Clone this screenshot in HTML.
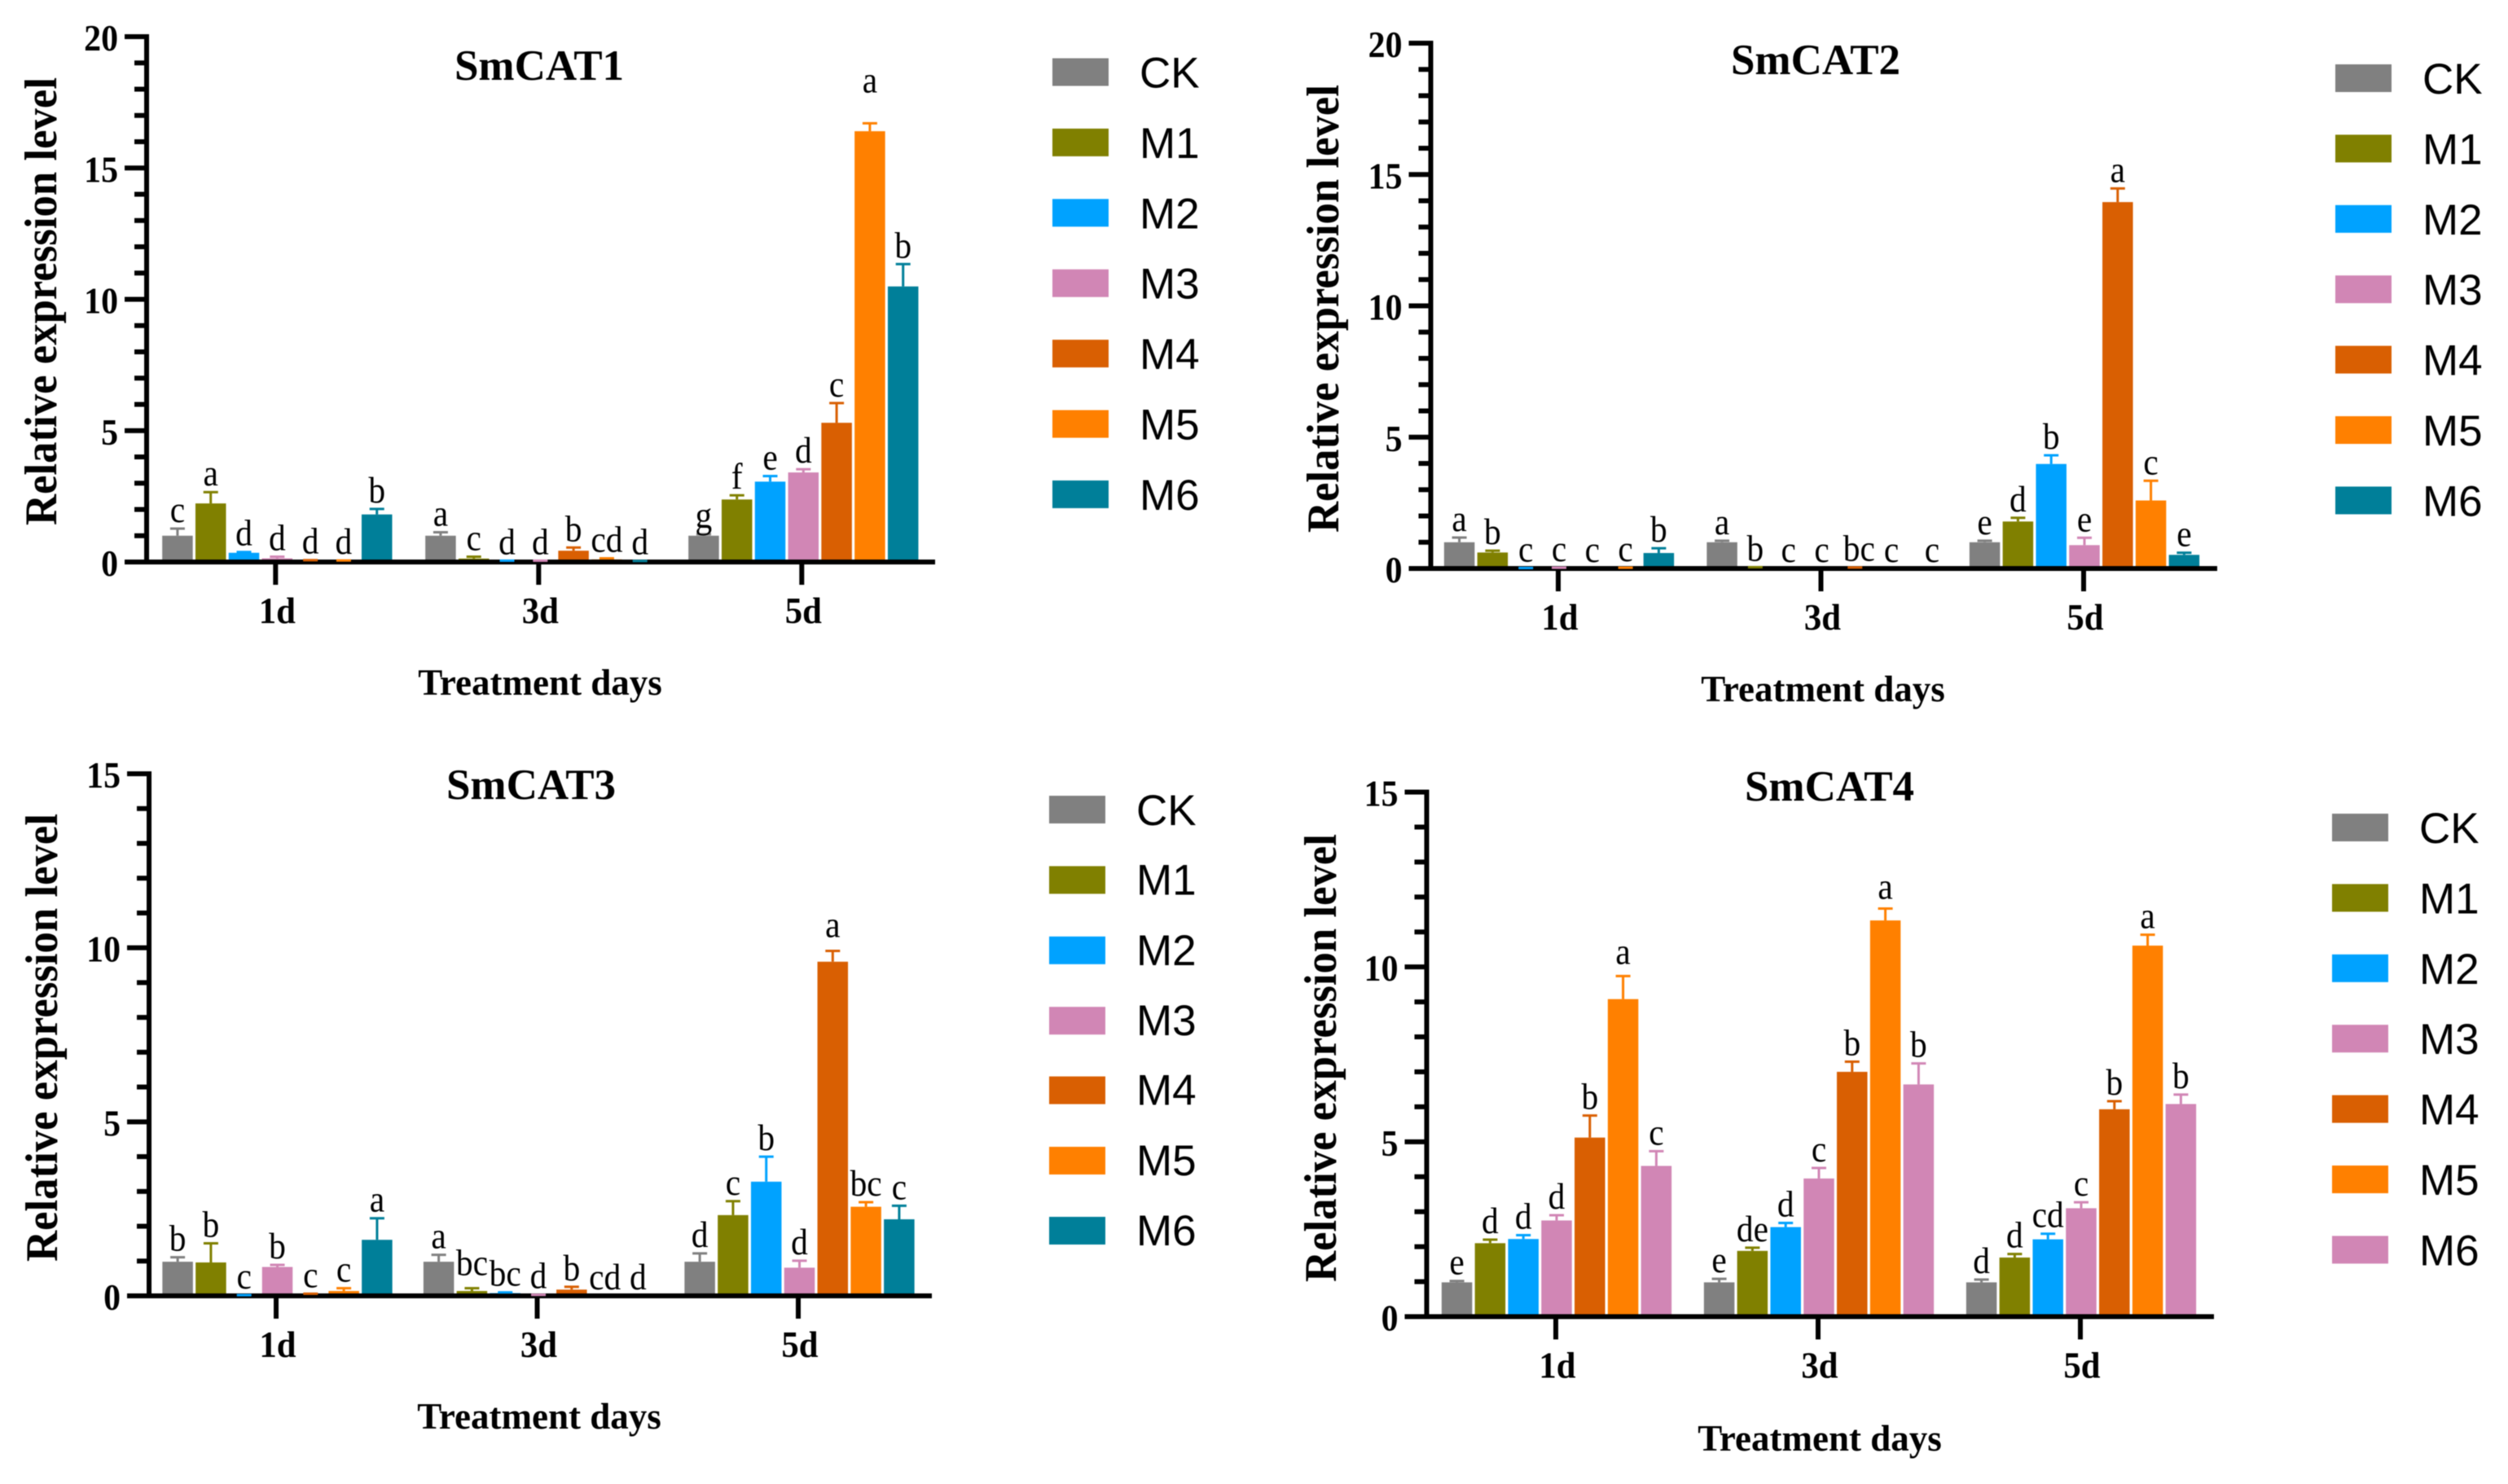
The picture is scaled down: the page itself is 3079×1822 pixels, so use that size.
<!DOCTYPE html>
<html lang="en">
<head>
<meta charset="utf-8">
<title>SmCAT relative expression levels</title>
<style>
html,body{margin:0;padding:0;background:#fff;width:3079px;height:1822px;overflow:hidden}
svg{display:block;filter:blur(0.6px)}
.title{font:bold 53px "Liberation Serif",serif;text-anchor:middle;fill:#000}
.ytitle{font:bold 56px "Liberation Serif",serif;text-anchor:middle;fill:#000}
.xtitle{font:bold 45px "Liberation Serif",serif;text-anchor:middle;fill:#000}
.ticklab{font:bold 45px "Liberation Serif",serif;fill:#000}
.letter{font:46px "Liberation Serif",serif;text-anchor:middle;fill:#000}
.leg{font:53px "Liberation Sans",sans-serif;fill:#000}
</style>
</head>
<body>
<svg id="figure" width="3079" height="1822" viewBox="0 0 3079 1822" xmlns="http://www.w3.org/2000/svg">
<rect width="3079" height="1822" fill="#fff"/>

<g id="panel-0">
<text class="title" x="662" y="98">SmCAT1</text>
<text class="ytitle" transform="translate(69,370) rotate(-90)" textLength="550" lengthAdjust="spacingAndGlyphs">Relative expression level</text>
<text class="xtitle" x="663" y="853">Treatment days</text>
<g transform="translate(1292,88.5)">
<g><rect x="0" y="-17" width="69" height="34" fill="#808080"/><text class="leg" x="107" y="19">CK</text></g>
<g transform="translate(0,86.4)"><rect x="0" y="-17" width="69" height="34" fill="#808000"/><text class="leg" x="107" y="19">M1</text></g>
<g transform="translate(0,172.8)"><rect x="0" y="-17" width="69" height="34" fill="#00A2FF"/><text class="leg" x="107" y="19">M2</text></g>
<g transform="translate(0,259.2)"><rect x="0" y="-17" width="69" height="34" fill="#D186B5"/><text class="leg" x="107" y="19">M3</text></g>
<g transform="translate(0,345.6)"><rect x="0" y="-17" width="69" height="34" fill="#D95F02"/><text class="leg" x="107" y="19">M4</text></g>
<g transform="translate(0,432)"><rect x="0" y="-17" width="69" height="34" fill="#FF8000"/><text class="leg" x="107" y="19">M5</text></g>
<g transform="translate(0,518.4)"><rect x="0" y="-17" width="69" height="34" fill="#007F99"/><text class="leg" x="107" y="19">M6</text></g>
</g>
</g>

<g id="panel-1">
<text class="title" x="2229" y="91">SmCAT2</text>
<text class="ytitle" transform="translate(1643,379) rotate(-90)" textLength="550" lengthAdjust="spacingAndGlyphs">Relative expression level</text>
<text class="xtitle" x="2238" y="861">Treatment days</text>
<g transform="translate(2867,96)">
<g><rect x="0" y="-17" width="69" height="34" fill="#808080"/><text class="leg" x="107" y="19">CK</text></g>
<g transform="translate(0,86.4)"><rect x="0" y="-17" width="69" height="34" fill="#808000"/><text class="leg" x="107" y="19">M1</text></g>
<g transform="translate(0,172.8)"><rect x="0" y="-17" width="69" height="34" fill="#00A2FF"/><text class="leg" x="107" y="19">M2</text></g>
<g transform="translate(0,259.2)"><rect x="0" y="-17" width="69" height="34" fill="#D186B5"/><text class="leg" x="107" y="19">M3</text></g>
<g transform="translate(0,345.6)"><rect x="0" y="-17" width="69" height="34" fill="#D95F02"/><text class="leg" x="107" y="19">M4</text></g>
<g transform="translate(0,432)"><rect x="0" y="-17" width="69" height="34" fill="#FF8000"/><text class="leg" x="107" y="19">M5</text></g>
<g transform="translate(0,518.4)"><rect x="0" y="-17" width="69" height="34" fill="#007F99"/><text class="leg" x="107" y="19">M6</text></g>
</g>
</g>

<g id="panel-2">
<text class="title" x="652" y="981">SmCAT3</text>
<text class="ytitle" transform="translate(70,1274) rotate(-90)" textLength="550" lengthAdjust="spacingAndGlyphs">Relative expression level</text>
<text class="xtitle" x="662" y="1754">Treatment days</text>
<g transform="translate(1288,994)">
<g><rect x="0" y="-17" width="69" height="34" fill="#808080"/><text class="leg" x="107" y="19">CK</text></g>
<g transform="translate(0,86.4)"><rect x="0" y="-17" width="69" height="34" fill="#808000"/><text class="leg" x="107" y="18">M1</text></g>
<g transform="translate(0,172.8)"><rect x="0" y="-17" width="69" height="34" fill="#00A2FF"/><text class="leg" x="107" y="18">M2</text></g>
<g transform="translate(0,259.2)"><rect x="0" y="-17" width="69" height="34" fill="#D186B5"/><text class="leg" x="107" y="18">M3</text></g>
<g transform="translate(0,344.6)"><rect x="0" y="-17" width="69" height="34" fill="#D95F02"/><text class="leg" x="107" y="18">M4</text></g>
<g transform="translate(0,431)"><rect x="0" y="-17" width="69" height="34" fill="#FF8000"/><text class="leg" x="107" y="18">M5</text></g>
<g transform="translate(0,517)"><rect x="0" y="-17" width="69" height="34" fill="#007F99"/><text class="leg" x="107" y="18">M6</text></g>
</g>
</g>

<g id="panel-3">
<text class="title" x="2246" y="983">SmCAT4</text>
<text class="ytitle" transform="translate(1640,1299) rotate(-90)" textLength="550" lengthAdjust="spacingAndGlyphs">Relative expression level</text>
<text class="xtitle" x="2234" y="1781">Treatment days</text>
<g transform="translate(2863,1016)">
<g><rect x="0" y="-17" width="69" height="34" fill="#808080"/><text class="leg" x="107" y="19">CK</text></g>
<g transform="translate(0,86.4)"><rect x="0" y="-17" width="69" height="34" fill="#808000"/><text class="leg" x="107" y="19">M1</text></g>
<g transform="translate(0,172.8)"><rect x="0" y="-17" width="69" height="34" fill="#00A2FF"/><text class="leg" x="107" y="19">M2</text></g>
<g transform="translate(0,259.2)"><rect x="0" y="-17" width="69" height="34" fill="#D186B5"/><text class="leg" x="107" y="19">M3</text></g>
<g transform="translate(0,345.6)"><rect x="0" y="-17" width="69" height="34" fill="#D95F02"/><text class="leg" x="107" y="19">M4</text></g>
<g transform="translate(0,432)"><rect x="0" y="-17" width="69" height="34" fill="#FF8000"/><text class="leg" x="107" y="19">M5</text></g>
<g transform="translate(0,518.4)"><rect x="0" y="-17" width="69" height="34" fill="#D186B5"/><text class="leg" x="107" y="19">M6</text></g>
</g>
</g>
</svg>

<script>
// ---- shared categories and tick labels ----
const categories = ['1d', '3d', '5d'];
const seriesNames = ['CK', 'M1', 'M2', 'M3', 'M4', 'M5', 'M6'];
const ticks20 = [0, 5, 10, 15, 20];
const ticks15 = [0, 5, 10, 15];

// ---- SmCAT1: one row per treatment day, columns CK..M6 ----
const cat1Values = [
  [1.0, 2.23, 0.35, 0.14, 0.06, 0.05, 1.81],
  [1.0, 0.13, 0.04, 0.04, 0.43, 0.10, 0.03],
  [1.0, 2.38, 3.06, 3.41, 5.30, 16.40, 10.49]
];
const cat1Errors = [
  [0.27, 0.43, 0.03, 0.06, 0.01, 0.01, 0.21],
  [0.13, 0.07, 0.01, 0.01, 0.12, 0.04, 0.01],
  [0.06, 0.16, 0.21, 0.12, 0.75, 0.30, 0.85]
];
const cat1Letters = [
  ['c', 'a', 'd', 'd', 'd', 'd', 'b'],
  ['a', 'c', 'd', 'd', 'b', 'cd', 'd'],
  ['g', 'f', 'e', 'd', 'c', 'a', 'b']
];

// ---- SmCAT2 ----
const cat2Values = [
  [1.0, 0.61, 0.02, 0.03, 0, 0.03, 0.59],
  [1.0, 0.05, 0, 0, 0.04, 0, 0],
  [1.0, 1.79, 3.98, 0.89, 13.95, 2.59, 0.52]
];
const cat2Errors = [
  [0.18, 0.07, 0, 0, 0, 0, 0.18],
  [0.06, 0, 0, 0, 0, 0, 0],
  [0.06, 0.14, 0.33, 0.28, 0.52, 0.75, 0.08]
];
const cat2Letters = [
  ['a', 'b', 'c', 'c', 'c', 'c', 'b'],
  ['a', 'b', 'c', 'c', 'bc', 'c', 'c'],
  ['e', 'd', 'b', 'e', 'a', 'c', 'e']
];

// ---- SmCAT3 ----
const cat3Values = [
  [0.98, 0.96, 0.02, 0.83, 0.05, 0.14, 1.61],
  [0.98, 0.14, 0.08, 0.03, 0.18, 0, 0],
  [0.98, 2.32, 3.28, 0.81, 9.60, 2.56, 2.20]
];
const cat3Errors = [
  [0.13, 0.55, 0, 0.06, 0.01, 0.08, 0.62],
  [0.20, 0.08, 0.02, 0, 0.08, 0, 0],
  [0.24, 0.40, 0.72, 0.20, 0.31, 0.13, 0.39]
];
const cat3Letters = [
  ['b', 'b', 'c', 'b', 'c', 'c', 'a'],
  ['a', 'bc', 'bc', 'd', 'b', 'cd', 'd'],
  ['d', 'c', 'b', 'd', 'a', 'bc', 'c']
];

// ---- SmCAT4 ----
const cat4Values = [
  [0.98, 2.10, 2.22, 2.75, 5.12, 9.08, 4.31],
  [0.98, 1.88, 2.56, 3.95, 7.00, 11.33, 6.64],
  [0.98, 1.69, 2.21, 3.10, 5.93, 10.61, 6.08]
];
const cat4Errors = [
  [0.04, 0.10, 0.11, 0.15, 0.63, 0.66, 0.42],
  [0.10, 0.09, 0.12, 0.30, 0.29, 0.34, 0.60],
  [0.08, 0.10, 0.16, 0.17, 0.23, 0.31, 0.27]
];
const cat4Letters = [
  ['e', 'd', 'd', 'd', 'b', 'a', 'c'],
  ['e', 'de', 'd', 'c', 'b', 'a', 'b'],
  ['d', 'd', 'cd', 'c', 'b', 'a', 'b']
];

// ---- presentation (not data) ----
const palette = ['#808080', '#808000', '#00A2FF', '#D186B5', '#D95F02', '#FF8000', '#007F99'];
const paletteCat4 = ['#808080', '#808000', '#00A2FF', '#D186B5', '#D95F02', '#FF8000', '#D186B5'];
const panels = [
  {values: cat1Values, errors: cat1Errors, letters: cat1Letters, ticks: ticks20, colors: palette,
   axisX: 180, y0: 690, yTop: 45, firstTick: 338.3, groupPitch: 323, barOffset: 2, endX: 1148,
   nudges: {'2-5': [0, -30]}},
  {values: cat2Values, errors: cat2Errors, letters: cat2Letters, ticks: ticks20, colors: palette,
   axisX: 1756.5, y0: 698, yTop: 53, firstTick: 1913, groupPitch: 322.5, barOffset: 1, endX: 2722,
   nudges: {'1-4': [5, 0], '1-5': [4, 0], '1-6': [13, 0]}},
  {values: cat3Values, errors: cat3Errors, letters: cat3Letters, ticks: ticks15, colors: palette,
   axisX: 183, y0: 1591, yTop: 950, firstTick: 339, groupPitch: 320.5, barOffset: 1.5, endX: 1144,
   nudges: {'1-1': [0, -8], '2-4': [0, -9]}},
  {values: cat4Values, errors: cat4Errors, letters: cat4Letters, ticks: ticks15, colors: paletteCat4,
   axisX: 1751.5, y0: 1616.5, yTop: 972.5, firstTick: 1910, groupPitch: 322, barOffset: 1, endX: 2718,
   nudges: {'0-5': [0, -7], '1-5': [0, -4]}}
];
const BAR_PITCH = 40.8;
const BAR_WIDTH = 37.5;
const CAP_WIDTH = 18;
const SVG_NS = 'http://www.w3.org/2000/svg';

function line(parent, x1, y1, x2, y2, color, width) {
  const el = document.createElementNS(SVG_NS, 'line');
  el.setAttribute('x1', x1);
  el.setAttribute('y1', y1);
  el.setAttribute('x2', x2);
  el.setAttribute('y2', y2);
  el.setAttribute('stroke', color);
  el.setAttribute('stroke-width', width);
  parent.appendChild(el);
  return el;
}

function label(parent, cls, x, y, str, anchor, sx) {
  const el = document.createElementNS(SVG_NS, 'text');
  el.setAttribute('class', cls);
  el.setAttribute('transform', 'translate(' + x + ',' + y + ') scale(' + sx + ',1)');
  if (anchor) el.setAttribute('text-anchor', anchor);
  el.textContent = str;
  parent.appendChild(el);
  return el;
}

panels.forEach(function (p, idx) {
  const root = document.getElementById('panel-' + idx);
  const yMax = p.ticks[p.ticks.length - 1];
  const yScale = function (v) { return p.y0 - (v / yMax) * (p.y0 - p.yTop); };
  const tickX = function (g) { return p.firstTick + g * p.groupPitch; };
  const barX = function (g, s) { return tickX(g) + p.barOffset + (s - 3) * BAR_PITCH; };

  const yAxis = line(root, p.axisX, yScale(yMax) - 3, p.axisX, p.y0 + 3, '#000', 6);
  
  

  const xAxis = line(root, p.axisX - 27, p.y0, p.endX, p.y0, '#000', 6);
  
  

  for (let v = 0; v <= yMax; v++) {
    const isMajor = p.ticks.indexOf(v) !== -1;
    const tick = line(root, p.axisX - (isMajor ? 27 : 15), yScale(v), p.axisX, yScale(v), '#000', 6);
    
    
  }

  p.ticks.forEach(function (t) {
    const tl = label(root, 'ticklab', p.axisX - 35, yScale(t) + 17, String(t), 'end', 0.93);
    
    
  });

  categories.forEach(function (cat, g) {
    const tick = line(root, tickX(g), p.y0, tickX(g), p.y0 + 28, '#000', 6);
    
    

    const tl = label(root, 'ticklab', tickX(g) + 2, p.y0 + 75, cat, 'middle', 0.95);
    
    

    seriesNames.forEach(function (name, s) {
      const v = p.values[g][s];
      const e = p.errors[g][s];
      const cx = barX(g, s);
      const color = p.colors[s];

      if (v > 0) {
        const bar = document.createElementNS(SVG_NS, 'rect');
        bar.setAttribute('x', cx - BAR_WIDTH / 2);
        bar.setAttribute('y', yScale(v));
        bar.setAttribute('width', BAR_WIDTH);
        bar.setAttribute('height', Math.max(0, p.y0 - 3 - yScale(v)));
        bar.setAttribute('fill', color);
        
        
        root.appendChild(bar);

        const stem = line(root, cx, yScale(v), cx, yScale(v + e), color, 3);
        
        

        const cap = line(root, cx - CAP_WIDTH / 2, yScale(v + e), cx + CAP_WIDTH / 2, yScale(v + e), color, 3);
        
        
      }

      const nudge = p.nudges[g + '-' + s] || [0, 0];
      const letter = label(root, 'letter', cx + nudge[0], yScale(v + e) - 8 + nudge[1], p.letters[g][s], null, 0.9);
      
      
    });
  });
});
</script>
</body>
</html>
